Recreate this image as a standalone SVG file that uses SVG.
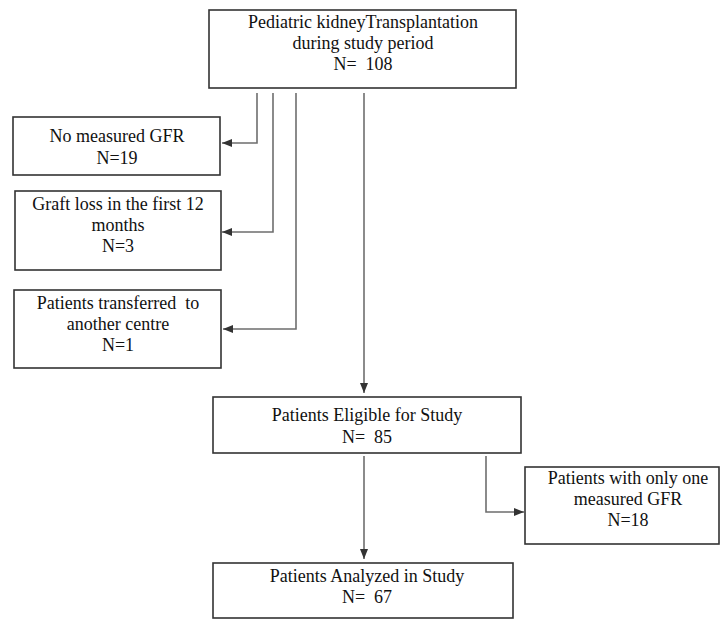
<svg xmlns="http://www.w3.org/2000/svg" width="720" height="619" viewBox="0 0 720 619">
<style>
.box{fill:#fff;stroke:#333;stroke-width:1.6}
.t{font-family:"Liberation Serif","Times New Roman",serif;font-size:18px;fill:#111;text-anchor:middle;white-space:pre}
.c{fill:none;stroke:#6e6e6e;stroke-width:1.6}
</style>
<defs>
<marker id="ah" markerUnits="userSpaceOnUse" markerWidth="11" markerHeight="9" refX="10" refY="4" orient="auto">
<path d="M0,0 L10,4 L0,8 z" fill="#333"/>
</marker>
</defs>
<rect width="720" height="619" fill="#fff"/>
<g id="connectors">
<path class="c" d="M257,93 V143 H222" marker-end="url(#ah)"/>
<path class="c" d="M273,93 V232 H222" marker-end="url(#ah)"/>
<path class="c" d="M296,93 V329 H223" marker-end="url(#ah)"/>
<path class="c" d="M364,93 V393" marker-end="url(#ah)"/>
<path class="c" d="M364,456 V559" marker-end="url(#ah)"/>
<path class="c" d="M486,456 V512 H524" marker-end="url(#ah)"/>
</g>
<g id="n_total">
<rect class="box" x="209" y="10" width="307" height="78"/>
<text class="t" x="363" y="28">Pediatric kidneyTransplantation</text>
<text class="t" x="363" y="49">during study period</text>
<text class="t" x="363" y="70">N=  108</text>
</g>
<g id="n_nogfr">
<rect class="box" x="13" y="117" width="207" height="58"/>
<text class="t" x="117" y="142">No measured GFR</text>
<text class="t" x="117" y="164">N=19</text>
</g>
<g id="n_graftloss">
<rect class="box" x="15" y="191" width="206" height="79"/>
<text class="t" x="118" y="210">Graft loss in the first 12</text>
<text class="t" x="118" y="231">months</text>
<text class="t" x="118" y="252">N=3</text>
</g>
<g id="n_transferred">
<rect class="box" x="14" y="290" width="207" height="78"/>
<text class="t" x="118" y="309">Patients transferred  to</text>
<text class="t" x="118" y="330">another centre</text>
<text class="t" x="118" y="351">N=1</text>
</g>
<g id="n_eligible">
<rect class="box" x="213" y="397" width="308" height="56"/>
<text class="t" x="367" y="421">Patients Eligible for Study</text>
<text class="t" x="367" y="443">N=  85</text>
</g>
<g id="n_onegfr">
<rect class="box" x="525" y="467" width="194" height="77"/>
<text class="t" x="628" y="484">Patients with only one</text>
<text class="t" x="628" y="505">measured GFR</text>
<text class="t" x="628" y="526">N=18</text>
</g>
<g id="n_analyzed">
<rect class="box" x="213" y="563" width="300" height="55"/>
<text class="t" x="367" y="582">Patients Analyzed in Study</text>
<text class="t" x="367" y="603">N=  67</text>
</g>
</svg>
